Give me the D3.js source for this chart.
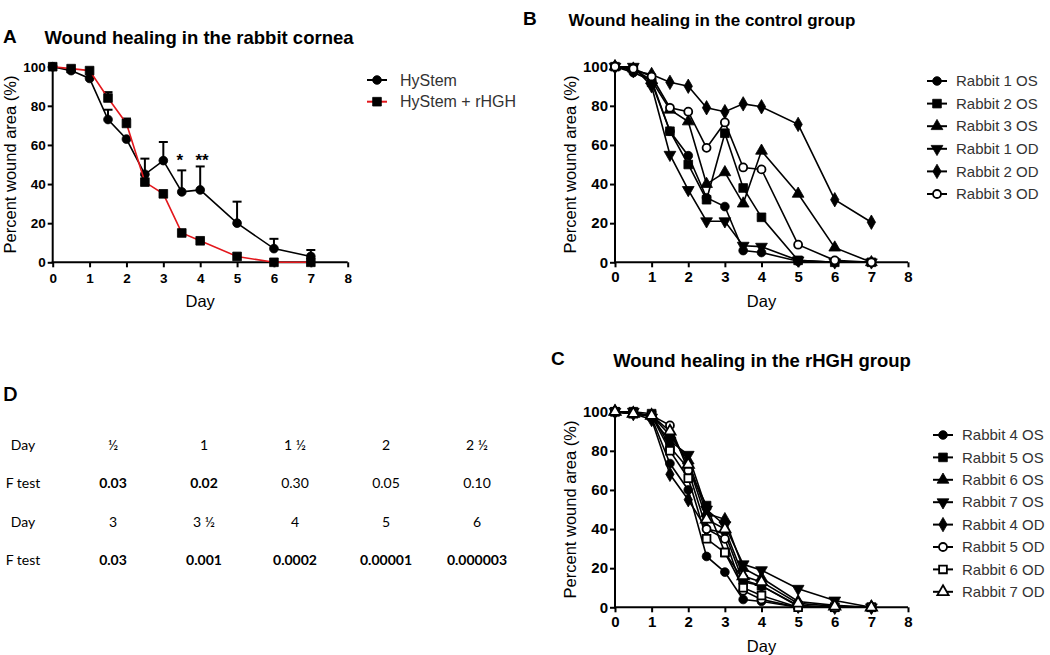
<!DOCTYPE html>
<html>
<head>
<meta charset="utf-8">
<script src="https://cdn.jsdelivr.net/npm/d3@7"></script>
<style>
  html, body { margin: 0; padding: 0; background: #fff; }
  svg { display: block; }
  text { font-family: "Liberation Sans", Arial, sans-serif; fill: #000; }
</style>
</head>
<body>
<svg id="chart" width="1050" height="655"></svg>
<script>
// ---------------- DATA ----------------
const days = [0, 0.5, 1, 1.5, 2, 2.5, 3, 3.5, 4, 5, 6, 7];
const xTicks = [0, 1, 2, 3, 4, 5, 6, 7, 8];
const yTicks = [0, 20, 40, 60, 80, 100];

// Panel A
const hystem      = [100, 98, 94, 73, 63, 45, 52, 36, 37, 20, 7, 3];
const hystemErr   = [0, 0, 0, 5, 0, 8, 9.5, 11, 12, 11, 5, 3.3];
const hystemRhgh  = [100, 99, 98, 84, 71, 41, 35, 15, 11, 3, 0, 0];
const rhghErr     = [0, 0, 0, 3, 2.5, 0, 0, 0, 0, 0, 0, 0];
const starDays    = [3.45, 4.05];
const starLabels  = ["*", "**"];
const legendA     = ["HyStem", "HyStem + rHGH"];

// Panel B – control group
const namesB = ["Rabbit 1 OS", "Rabbit 2 OS", "Rabbit 3 OS", "Rabbit 1 OD", "Rabbit 2 OD", "Rabbit 3 OD"];
const rabbit1OS = [100, 97, 93, 67, 54.5, 33, 28.5, 6, 5, 0.5, 0, 0];
const rabbit2OS = [100, 99, 92, 67, 50, 32, 66, 38, 23, 1, 0, 0];
const rabbit3OS = [100, 99, 93, 78, 72, 40, 46, 30, 57, 35, 7.5, 0];
const rabbit1OD = [100, 100, 90, 55, 37, 21, 21, 8.5, 8, 1, 0, 0];
const rabbit2OD = [100, 98, 96, 92, 90, 79, 77, 81, 79.5, 70.5, 32, 20.5];
const rabbit3OD = [100, 99, 95, 79, 77, 58.5, 71.5, 48.5, 47.5, 9, 1, 0];

// Panel C – rHGH group
const namesC = ["Rabbit 4 OS", "Rabbit 5 OS", "Rabbit 6 OS", "Rabbit 7 OS", "Rabbit 4 OD", "Rabbit 5 OD", "Rabbit 6 OD", "Rabbit 7 OD"];
const rabbit4OS = [100, 100, 97, 73.5, 60, 26, 18, 4, 3, 0, 0, 0];
const rabbit5OS = [100, 100, 99, 82, 71, 52, 28, 14, 11, 1, 0, 0];
const rabbit6OS = [100, 99, 98, 88, 75, 48, 45, 20, 15, 3, 1, 0];
const rabbit7OS = [100, 100, 97, 85, 78, 50, 42, 22, 19, 9.5, 3.5, 0];
const rabbit4OD = [100, 99, 96, 68, 55, 40, 38, 13, 11, 0.5, 0, 0];
const rabbit5OD = [100, 99, 98, 93, 70, 40, 35, 8.5, 4, 0, 0, 0];
const rabbit6OD = [100, 99, 98, 80, 66, 35, 28, 10, 6, 0, 0, 0];
const rabbit7OD = [100, 99, 98, 90, 73, 45, 40, 16, 13, 2, 0.5, 0];

// Panel D – table
const tableRowLabels = ["Day", "F test", "Day", "F test"];
const dayRow1 = ["½", "1", "1 ½", "2", "2 ½"];
const fRow1   = ["0.03", "0.02", "0.30", "0.05", "0.10"];
const fBold1  = [true, true, false, false, false];
const dayRow2 = ["3", "3 ½", "4", "5", "6"];
const fRow2   = ["0.03", "0.001", "0.0002", "0.00001", "0.000003"];
const fBold2  = [true, true, true, true, true];

// ---------------- DRAW ----------------
const svg = d3.select("#chart");

const markerDefs = {
  circle:   {type: d3.symbolCircle,   rot: 0,   size: 60, fill: true},
  square:   {type: d3.symbolSquare,   rot: 0,   size: 75, fill: true},
  triangle: {type: d3.symbolTriangle, rot: 0,   size: 60, fill: true},
  invtri:   {type: d3.symbolTriangle, rot: 180, size: 60, fill: true},
  diamond:  {type: d3.symbolDiamond,  rot: 0,   size: 60, fill: true},
  ocircle:  {type: d3.symbolCircle,   rot: 0,   size: 50, fill: false},
  osquare:  {type: d3.symbolSquare,   rot: 0,   size: 60, fill: false},
  otri:     {type: d3.symbolTriangle, rot: 0,   size: 55, fill: false}
};

function drawMarker(g, kind, x, y) {
  const m = markerDefs[kind];
  g.append("path")
    .attr("d", d3.symbol().type(m.type).size(m.size)())
    .attr("transform", `translate(${x},${y}) rotate(${m.rot})`)
    .attr("fill", m.fill ? "#000" : "#fff")
    .attr("stroke", "#000")
    .attr("stroke-width", m.fill ? 0.8 : 1.8);
}

function makeAxes(cfg) {
  const x = d3.scaleLinear().domain([0, 8]).range([cfg.x0, cfg.x1]);
  const y = d3.scaleLinear().domain([0, 100]).range([cfg.y0, cfg.y1]);
  const g = svg.append("g");
  const ax = g.append("g").attr("transform", `translate(0,${cfg.y0})`)
    .call(d3.axisBottom(x).tickValues(xTicks).tickSize(5).tickPadding(cfg.xpad).tickSizeOuter(0));
  const ay = g.append("g").attr("transform", `translate(${cfg.x0},0)`)
    .call(d3.axisLeft(y).tickValues(yTicks).tickSize(5).tickPadding(2).tickSizeOuter(0));
  [ax, ay].forEach(a => {
    a.selectAll("path,line").attr("stroke", "#000").attr("stroke-width", 2);
    a.selectAll("text").attr("font-size", cfg.tickFont).attr("font-weight", "bold")
      .attr("font-family", '"Liberation Sans", Arial, sans-serif').attr("fill", "#000");
  });
  ax.select("path").attr("d", `M${cfg.x0 - 1},0H${cfg.x1}`);
  ay.select("path").attr("d", `M0,${cfg.y0 + 1}V${cfg.y1}`);
  g.append("text").attr("transform", `translate(${cfg.ytitleX},${(cfg.y0 + cfg.y1) / 2}) rotate(-90)`)
    .attr("text-anchor", "middle").attr("font-size", cfg.titleFont).text("Percent wound area (%)");
  g.append("text").attr("x", (cfg.x0 + cfg.x1) / 2).attr("y", cfg.dayY)
    .attr("text-anchor", "middle").attr("font-size", cfg.titleFont).text("Day");
  return {x, y, g};
}

function drawSeries(ax, vals, lineColor) {
  const line = d3.line().x((d, i) => ax.x(days[i])).y(d => ax.y(d));
  ax.g.append("path").datum(vals).attr("d", line).attr("fill", "none")
    .attr("stroke", lineColor || "#000").attr("stroke-width", 1.6);
}
function drawSeriesMarkers(ax, vals, kind) {
  vals.forEach((v, i) => drawMarker(ax.g, kind, ax.x(days[i]), ax.y(v)));
}

function legend(items, x, y0, dy, textX, fontSize) {
  const g = svg.append("g");
  items.forEach((it, i) => {
    const y = y0 + i * dy;
    g.append("line").attr("x1", x - 10).attr("x2", x + 10).attr("y1", y).attr("y2", y)
      .attr("stroke", it.color || "#000").attr("stroke-width", 2);
    drawMarker(g, it.kind, x, y);
    g.append("text").attr("x", textX).attr("y", y).attr("dy", "0.35em")
      .attr("font-size", fontSize).style("fill", "#333").text(it.name);
  });
}

// ---------- Panel A ----------
svg.append("text").attr("x", 3).attr("y", 43).attr("font-size", 19).attr("font-weight", "bold").text("A");
svg.append("text").attr("x", 199).attr("y", 44).attr("text-anchor", "middle").attr("font-size", 18.5)
  .attr("font-weight", "bold").text("Wound healing in the rabbit cornea");
const axA = makeAxes({x0: 52.7, x1: 347.7, y0: 262.3, y1: 66.7, tickFont: 13.5, titleFont: 16.5,
  xpad: 6, ytitleX: 16, dayY: 307});
function errBars(ax, vals, errs) {
  vals.forEach((v, i) => {
    if (!errs[i]) return;
    const cx = ax.x(days[i]), top = ax.y(v + errs[i]);
    ax.g.append("line").attr("x1", cx).attr("x2", cx).attr("y1", ax.y(v)).attr("y2", top)
      .attr("stroke", "#000").attr("stroke-width", 2);
    ax.g.append("line").attr("x1", cx - 4.5).attr("x2", cx + 4.5).attr("y1", top).attr("y2", top)
      .attr("stroke", "#000").attr("stroke-width", 2);
  });
}
errBars(axA, hystem, hystemErr);
errBars(axA, hystemRhgh, rhghErr);
drawSeries(axA, hystem, "#000");
drawSeriesMarkers(axA, hystem, "circle");
drawSeries(axA, hystemRhgh, "#e3171c");
drawSeriesMarkers(axA, hystemRhgh, "square");
starDays.forEach((d, i) => {
  axA.g.append("text").attr("x", axA.x(d)).attr("y", axA.y(49)).attr("text-anchor", "middle")
    .attr("font-size", 17).attr("font-weight", "bold").text(starLabels[i]);
});
legend([{name: legendA[0], kind: "circle"}, {name: legendA[1], kind: "square", color: "#e3171c"}],
  377, 80, 21.7, 400, 16);

// ---------- Panel B ----------
svg.append("text").attr("x", 523).attr("y", 25).attr("font-size", 19).attr("font-weight", "bold").text("B");
svg.append("text").attr("x", 712).attr("y", 26).attr("text-anchor", "middle").attr("font-size", 17)
  .attr("font-weight", "bold").text("Wound healing in the control group");
const axB = makeAxes({x0: 615, x1: 908, y0: 262.3, y1: 66.7, tickFont: 15, titleFont: 16.5,
  xpad: 4, ytitleX: 576, dayY: 307});
const seriesB = [rabbit1OS, rabbit2OS, rabbit3OS, rabbit1OD, rabbit2OD, rabbit3OD];
const kindsB = ["circle", "square", "triangle", "invtri", "diamond", "ocircle"];
seriesB.forEach(s => drawSeries(axB, s));
seriesB.forEach((s, i) => drawSeriesMarkers(axB, s, kindsB[i]));
legend(namesB.map((n, i) => ({name: n, kind: kindsB[i]})), 937, 81, 22.6, 956, 15);

// ---------- Panel C ----------
svg.append("text").attr("x", 551).attr("y", 365).attr("font-size", 19).attr("font-weight", "bold").text("C");
svg.append("text").attr("x", 762).attr("y", 367).attr("text-anchor", "middle").attr("font-size", 18.5)
  .attr("font-weight", "bold").text("Wound healing in the rHGH group");
const axC = makeAxes({x0: 615, x1: 908, y0: 607.3, y1: 411.7, tickFont: 15, titleFont: 16.5,
  xpad: 4, ytitleX: 576, dayY: 652});
const seriesC = [rabbit4OS, rabbit5OS, rabbit6OS, rabbit7OS, rabbit4OD, rabbit5OD, rabbit6OD, rabbit7OD];
const kindsC = ["circle", "square", "triangle", "invtri", "diamond", "ocircle", "osquare", "otri"];
seriesC.forEach(s => drawSeries(axC, s));
seriesC.forEach((s, i) => drawSeriesMarkers(axC, s, kindsC[i]));
legend(namesC.map((n, i) => ({name: n, kind: kindsC[i]})), 943, 435, 22.4, 962, 15);

// ---------- Panel D ----------
svg.append("text").attr("x", 3).attr("y", 401).attr("font-size", 19).attr("font-weight", "bold")
  .style("font-family", "Lato, 'Open Sans', sans-serif").text("D");
const colX = d3.scalePoint().domain(d3.range(5)).range([113, 477]);
const rowY = d3.scalePoint().domain(d3.range(4)).range([445, 560]);
const tableRows = [
  {vals: dayRow1, bold: [false, false, false, false, false]},
  {vals: fRow1, bold: fBold1},
  {vals: dayRow2, bold: [false, false, false, false, false]},
  {vals: fRow2, bold: fBold2}
];
const tg = svg.append("g");
tableRows.forEach((row, r) => {
  tg.append("text").attr("x", 23).attr("y", rowY(r)).attr("dy", "0.35em").attr("text-anchor", "middle")
    .attr("font-size", 14).style("font-family", "Lato, 'Open Sans', sans-serif").text(tableRowLabels[r]);
  row.vals.forEach((v, c) => {
    tg.append("text").attr("x", colX(c)).attr("y", rowY(r)).attr("dy", "0.35em").attr("text-anchor", "middle")
      .attr("font-size", 14).attr("font-weight", row.bold[c] ? "bold" : "normal")
      .style("font-family", "Lato, 'Open Sans', sans-serif").text(v);
  });
});
</script>
</body>
</html>
